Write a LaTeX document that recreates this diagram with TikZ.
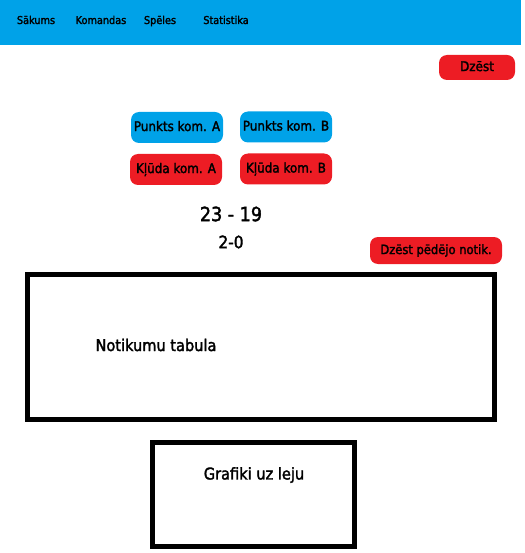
\documentclass[tikz,border=0pt]{standalone}
\usepackage{fontspec}
\setmainfont{DejaVu Sans Condensed}
\newfontfamily\uifont{DejaVu Sans Condensed}[FakeBold=2]
\definecolor{paintblue}{HTML}{00A2E8}
\definecolor{paintred}{HTML}{ED1C24}
\begin{document}
\begin{tikzpicture}[x=1pt, y=-1pt,
    navtext/.style={anchor=base, font=\uifont\fontsize{10.8}{12}\selectfont},
    btn/.style={rounded corners=8pt, minimum width=92pt, minimum height=31pt, inner sep=0pt, text height=1.6ex, text depth=0.3ex, font=\uifont\fontsize{13.3}{15}\selectfont},
    bluebtn/.style={btn, fill=paintblue},
    redbtn/.style={btn, fill=paintred},
    label/.style={font=\uifont\fontsize{16.2}{19}\selectfont},
    panel/.style={draw, line width=5pt}]
        \useasboundingbox (0,0) rectangle (524,553);
        \fill[paintblue] (0,0) rectangle (521,45);
        \node[navtext] (nav1) at (36,24){Sākums};
        \node[navtext] (nav2) at (101,24){Komandas};
        \node[navtext] (nav3) at (160,24){Spēles};
        \node[navtext] (nav4) at (226,24){Statistika};
        \node[redbtn, minimum width=76pt, minimum height=25pt] (del) at (477,67.5){Dzēst};
        \node[bluebtn] (ptsA) at (177,127.5){Punkts kom. A};
        \node[bluebtn] (ptsB) at (286,127){Punkts kom. B};
        \node[redbtn] (errA) at (176,169.5){Kļūda kom. A};
        \node[redbtn] (errB) at (286,169){Kļūda kom. B};
        \node[font=\uifont\fontsize{19.5}{23}\selectfont] (score) at (231,214){23 - 19};
        \node[font=\uifont\fontsize{17}{20}\selectfont] (sets) at (231,242){2-0};
        \node[redbtn, minimum width=132pt, minimum height=27pt, font=\uifont\fontsize{12.8}{15}\selectfont] (undo) at (436,250.5){Dzēst pēdējo notik.};
        \draw[panel] (27.5,274.5) rectangle (494.5,419.5);
        \node[label] (table) at (156,345){Notikumu tabula};
        \draw[panel] (152.5,442.5) rectangle (354.5,546.5);
        \node[label] (charts) at (254,475){Grafiki uz leju};
        \end{tikzpicture}
\end{document}
